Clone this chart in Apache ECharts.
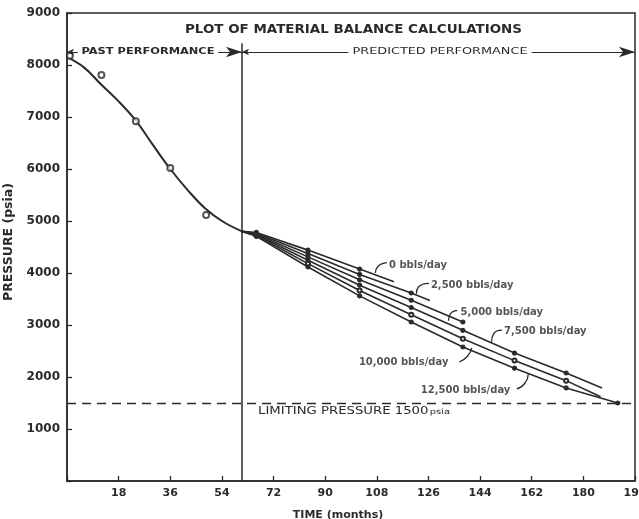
<!DOCTYPE html>
<html><head><meta charset="utf-8">
<script src="https://cdn.jsdelivr.net/npm/echarts@6/dist/echarts.min.js"></script>
<style>html,body{margin:0;padding:0;background:#fff}#c{width:639px;height:519px}</style>
</head><body><div id="c"></div>
<script>
// ---- data ----
const xTicks = [18, 36, 54, 72, 90, 108, 126, 144, 162, 180, 198];
const yTicks = [1000, 2000, 3000, 4000, 5000, 6000, 7000, 8000, 9000];
const pastMonths   = [0, 6, 12, 18, 24, 30, 36, 42, 48, 54, 61];
const pastPressure = [8150, 7950, 7620, 7300, 6930, 6460, 6000, 5600, 5250, 5000, 4800];
const obsMonths    = [1, 12, 24, 36, 48.5];
const obsPressure  = [8180, 7810, 6920, 6020, 5115];
const rates = ['0 bbls/day', '2,500 bbls/day', '5,000 bbls/day', '7,500 bbls/day', '10,000 bbls/day', '12,500 bbls/day'];
const predMonths = [
  [61, 66, 84, 102, 114],
  [61, 66, 84, 102, 120, 126.5],
  [61, 66, 84, 102, 120, 138],
  [61, 66, 84, 102, 120, 138, 156, 174, 186.5],
  [61, 66, 84, 102, 120, 138, 156, 174, 186],
  [61, 66, 84, 102, 120, 138, 156, 174, 192]
];
const predPressure = [
  [4800, 4780, 4440, 4075, 3830],
  [4800, 4765, 4375, 3972, 3615, 3470],
  [4800, 4750, 4310, 3869, 3476, 3058],
  [4800, 4735, 4245, 3766, 3337, 2898, 2460, 2077, 1790],
  [4800, 4720, 4180, 3663, 3197, 2737, 2315, 1930, 1620],
  [4800, 4705, 4115, 3560, 3058, 2577, 2170, 1790, 1500]
];
const limitPressure = 1500;
const dividerMonth = 61;
const dividerTop = 8420;
const arrowLevel = 8250;
// label anchors (month, pressure) and leader hooks
const labelAnchors = [[111.9, 4154], [126.5, 3769], [136.8, 3250], [152, 2880], [101.4, 2288], [123, 1750]];
const hooks = [
  [[111.5, 4200], [108.3, 4120], [107.5, 4000]],
  [[126.2, 3800], [122.5, 3730], [121.8, 3600]],
  [[136.0, 3280], [133.5, 3200], [133.0, 3080]],
  [[151.6, 2900], [148.7, 2830], [148.0, 2680]],
  [[136.8, 2290], [139.6, 2400], [141.1, 2560]],
  [[156.8, 1770], [159.6, 1880], [160.8, 2060]]
];
const titleText = 'PLOT OF MATERIAL BALANCE CALCULATIONS';
const pastText = 'PAST PERFORMANCE';
const predText = 'PREDICTED PERFORMANCE';
const limitText = ['LIMITING PRESSURE 1500', 'psia'];

const ink = '#2a2a2a';
const font = 'DejaVu Sans';

const chart = echarts.init(document.getElementById('c'), null, {renderer: 'canvas'});
const series = [];
series.push({
  type: 'line', data: pastMonths.map((m, i) => [m, pastPressure[i]]), smooth: 0.4,
  symbol: 'none', lineStyle: {color: ink, width: 2}, z: 3,
  markLine: {
    silent: true, animation: false,
    label: {show: false},
    data: [
      [{coord: [dividerMonth, 0], symbol: 'none', lineStyle: {color: ink, width: 1.5, type: 'solid'}},
       {coord: [dividerMonth, dividerTop], symbol: 'none'}],
      [{coord: [0, limitPressure], symbol: 'none', lineStyle: {color: ink, width: 1.3, type: [9, 6]}},
       {coord: [198, limitPressure], symbol: 'none'}],
      [{coord: [0, arrowLevel], symbol: 'arrow', symbolSize: [5, 7],
        lineStyle: {color: ink, width: 1, type: 'solid'}},
       {coord: [dividerMonth, arrowLevel], symbol: 'arrow'}],
      [{coord: [dividerMonth, arrowLevel], symbol: 'arrow', symbolSize: [5, 7],
        lineStyle: {color: ink, width: 1, type: 'solid'}},
       {coord: [198, arrowLevel], symbol: 'arrow'}]
    ]
  }
});
series.push({
  type: 'scatter', data: obsMonths.map((m, i) => [m, obsPressure[i]]),
  symbol: 'circle', symbolSize: 6,
  itemStyle: {color: '#fff', borderColor: ink, borderWidth: 2}, z: 4
});
predMonths.forEach((ms, k) => {
  series.push({
    type: 'line', name: rates[k],
    data: ms.map((m, i) => ({value: [m, predPressure[k][i]],
      symbol: (i === 0 || (m % 18 !== 12 && m !== 66)) ? 'none' : (k === 4 ? 'emptyCircle' : 'circle')})),
    symbolSize: 4, lineStyle: {color: ink, width: 1.6}, itemStyle: {color: ink, borderColor: ink, borderWidth: 1.2},
    z: 3, label: {show: false}
  });
});
hooks.forEach(h => {
  series.push({type: 'line', data: h, smooth: 0.6, symbol: 'none', lineStyle: {color: ink, width: 1.3}, z: 2, silent: true});
});
series.push({
  type: 'scatter', symbolSize: 0, silent: true,
  data: labelAnchors.map((p, k) => ({value: p, name: rates[k]})),
  label: {show: true, position: 'right', distance: 1, formatter: p => p.name, color: ink,
    fontFamily: font, fontWeight: 'bold', fontSize: 10}
});

chart.setOption({
  animation: false,
  backgroundColor: '#fff',
  grid: {left: 67, right: 4, top: 13, bottom: 38, show: true, borderColor: ink, borderWidth: 1.5,
    backgroundColor: 'transparent', containLabel: false, outerBoundsMode: 'none'},
  xAxis: {
    type: 'value', min: 0, max: 198, interval: 18,
    name: 'TIME (months)', nameLocation: 'middle', nameGap: 29,
    nameTextStyle: {color: ink, fontFamily: font, fontSize: 11, fontWeight: 'bold', padding: [0, 26, 0, 0]},
    axisLine: {lineStyle: {color: ink, width: 1.5}},
    axisTick: {inside: true, length: 5, lineStyle: {color: ink, width: 1.3}},
    axisLabel: {color: ink, fontFamily: font, fontSize: 11, fontWeight: 'bold', margin: 7,
      alignMaxLabel: 'center', hideOverlap: false,
      formatter: v => (xTicks.indexOf(v) >= 0 ? String(v) : '')},
    splitLine: {show: false}
  },
  yAxis: {
    type: 'value', min: 0, max: 9000, interval: 1000,
    name: 'PRESSURE (psia)', nameLocation: 'middle', nameGap: 50, nameRotate: 90,
    nameTextStyle: {color: ink, fontFamily: font, fontSize: 12.5, fontWeight: 'bold', padding: [0, 0, 0, 10]},
    axisLine: {show: true, lineStyle: {color: ink, width: 1.5}},
    axisTick: {show: true, inside: true, length: 5, lineStyle: {color: ink, width: 1.3}},
    axisLabel: {color: ink, fontFamily: font, fontSize: 12, fontWeight: 'bold', margin: 7,
      formatter: v => (yTicks.indexOf(v) >= 0 ? String(v) : '')},
    splitLine: {show: false}
  },
  series: series
});

// letter-spaced annotation texts, stretched to the widths seen in the reference
const mctx = document.createElement('canvas').getContext('2d');
function w(t, f) { mctx.font = f; return mctx.measureText(t).width; }
function stretched(text, fontStr, cx, cy, targetW, bg) {
  const sx = targetW / w(text, fontStr);
  return {type: 'text', x: cx, y: cy, scaleX: sx, z: 100,
    style: {text: text, font: fontStr, fill: ink, align: 'center', verticalAlign: 'middle',
      textAlign: 'center', textVerticalAlign: 'middle',
      backgroundColor: bg || null, padding: bg ? [1, 3] : 0}};
}
const p = (a) => chart.convertToPixel({gridIndex: 0}, a);
const fTitle = 'bold 12px "DejaVu Sans"';
const fPast = 'bold 9.5px "DejaVu Sans"';
const fPred = '9.5px "DejaVu Sans"';
const pastL = p([0, arrowLevel]), divP = p([dividerMonth, arrowLevel]), endP = p([198, arrowLevel]);
const limA = p([66.6, limitPressure]);
const fLim = '10px "DejaVu Sans"', fLimS = '7.5px "DejaVu Sans"';
const limW = w(limitText[0], fLim) + w(limitText[1], fLimS) + 1;
const limScale = 192 / limW;
chart.setOption({
  graphic: [
    stretched(titleText, fTitle, 353.5, 30, 337),
    stretched(pastText, fPast, pastL[0] + 81, pastL[1], 133, '#fff'),
    stretched(predText, fPred, divP[0] + 198, divP[1], 175, '#fff'),
    {type: 'group', x: limA[0], y: limA[1] + 8, scaleX: limScale, z: 100, children: [
      {type: 'text', x: 0, y: 0, style: {text: limitText[0], font: fLim, fill: ink, align: 'left', verticalAlign: 'middle',
        textAlign: 'left', textVerticalAlign: 'middle'}},
      {type: 'text', x: w(limitText[0], fLim) + 1, y: 1, style: {text: limitText[1], font: fLimS, fill: ink, align: 'left',
        verticalAlign: 'middle', textAlign: 'left', textVerticalAlign: 'middle'}}
    ]}
  ]
});
</script></body></html>
